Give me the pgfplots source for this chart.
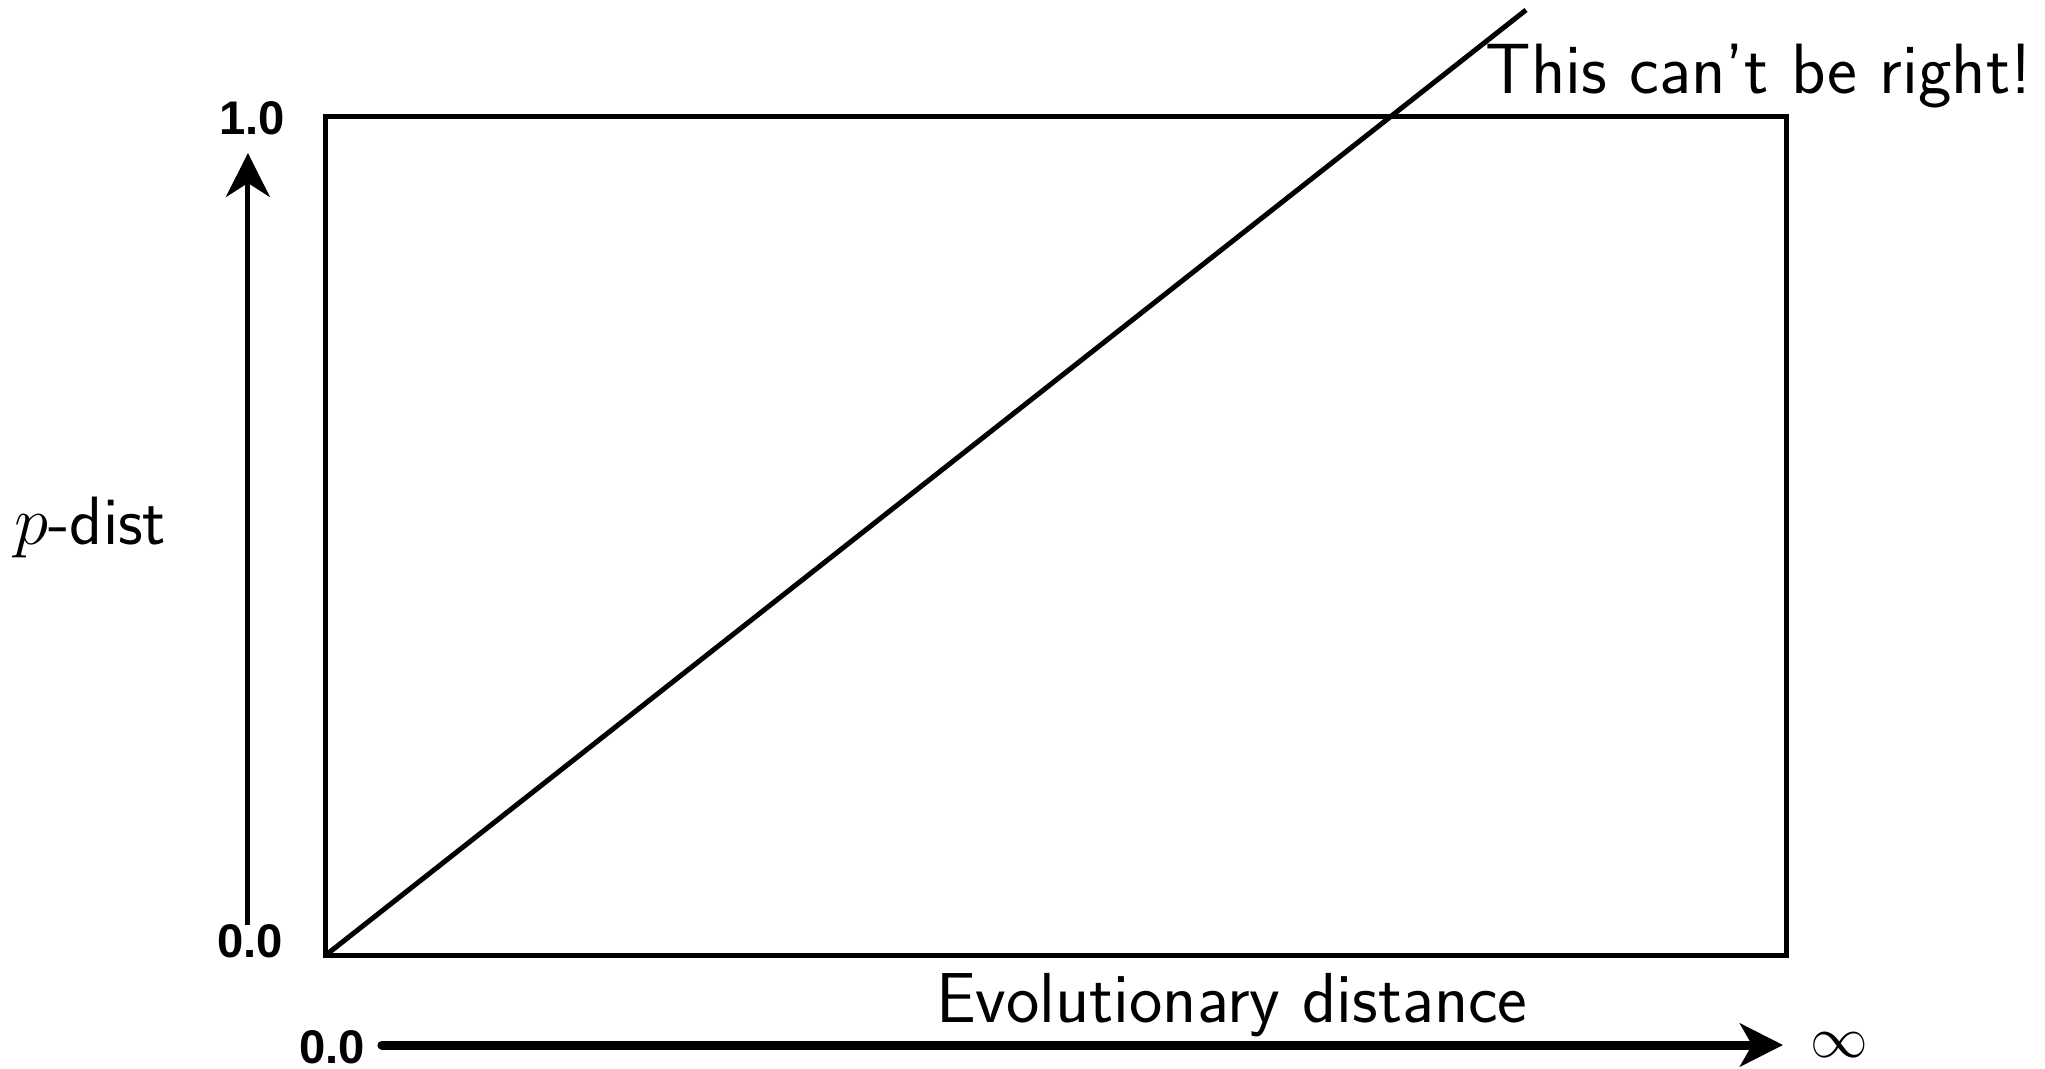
\documentclass[border=0pt]{standalone}
\usepackage{fontspec}
\usepackage{pgfplots}
\pgfplotsset{compat=1.18}
\usetikzlibrary{arrows.meta}
\newfontfamily\helv{Liberation Sans}
\begin{document}
\begin{tikzpicture}
\begin{axis}[
  scale only axis,
  width=365.25pt, height=209.5pt,
  xmin=0, xmax=1, ymin=0, ymax=1,
  hide axis,
  clip=false,
]
\draw[line width=1.25pt] (rel axis cs:0,0) rectangle (rel axis cs:1,1);
\addplot[black, line width=1.25pt] coordinates {(0,0) (0.8214,1.1277)};
% y arrow
\draw[line width=1.25pt, -{Stealth[length=11pt,width=11pt,inset=3.5pt]}]
  (rel axis cs:-0.0534,0.0358) -- (rel axis cs:-0.0534,0.957);
% x arrow
\draw[line width=2.25pt, line cap=round, -{Stealth[length=10.75pt,width=10.75pt,inset=3pt]}]
  (rel axis cs:0.0383,-0.1074) -- (rel axis cs:0.9973,-0.1074);
\node[inner sep=0pt] at (rel axis cs:-0.0507,0.9982) {\helv\bfseries\fontsize{11.8}{13}\selectfont 1.0};
\node[inner sep=0pt] at (rel axis cs:-0.0520,0.0167) {\helv\bfseries\fontsize{11.8}{13}\selectfont 0.0};
\node[inner sep=0pt] at (rel axis cs:0.0041,-0.1098) {\helv\bfseries\fontsize{11.8}{13}\selectfont 0.0};
\node[inner sep=0pt] at (rel axis cs:1.0356,-0.1074) {\fontsize{14.5}{17}\selectfont $\infty$};
\node[inner sep=0pt, anchor=base] at (rel axis cs:0.6200,-0.0800) {\sffamily\fontsize{17.7}{20}\selectfont Evolutionary distance};
\node[inner sep=0pt, anchor=base east] at (rel axis cs:1.1680,1.0286) {\sffamily\fontsize{17.8}{20}\selectfont This can't be right!};
\node[inner sep=0pt, anchor=base east] at (rel axis cs:-0.1088,0.4893) {\sffamily\fontsize{17.1}{20}\selectfont $p$-dist};
\coordinate (bbsw) at (rel axis cs:-0.2231,-0.1360);
\coordinate (bbne) at (rel axis cs:1.1766,1.1396);
\end{axis}
\pgfresetboundingbox
\path[use as bounding box] (bbsw) rectangle (bbne);
\end{tikzpicture}
\end{document}
